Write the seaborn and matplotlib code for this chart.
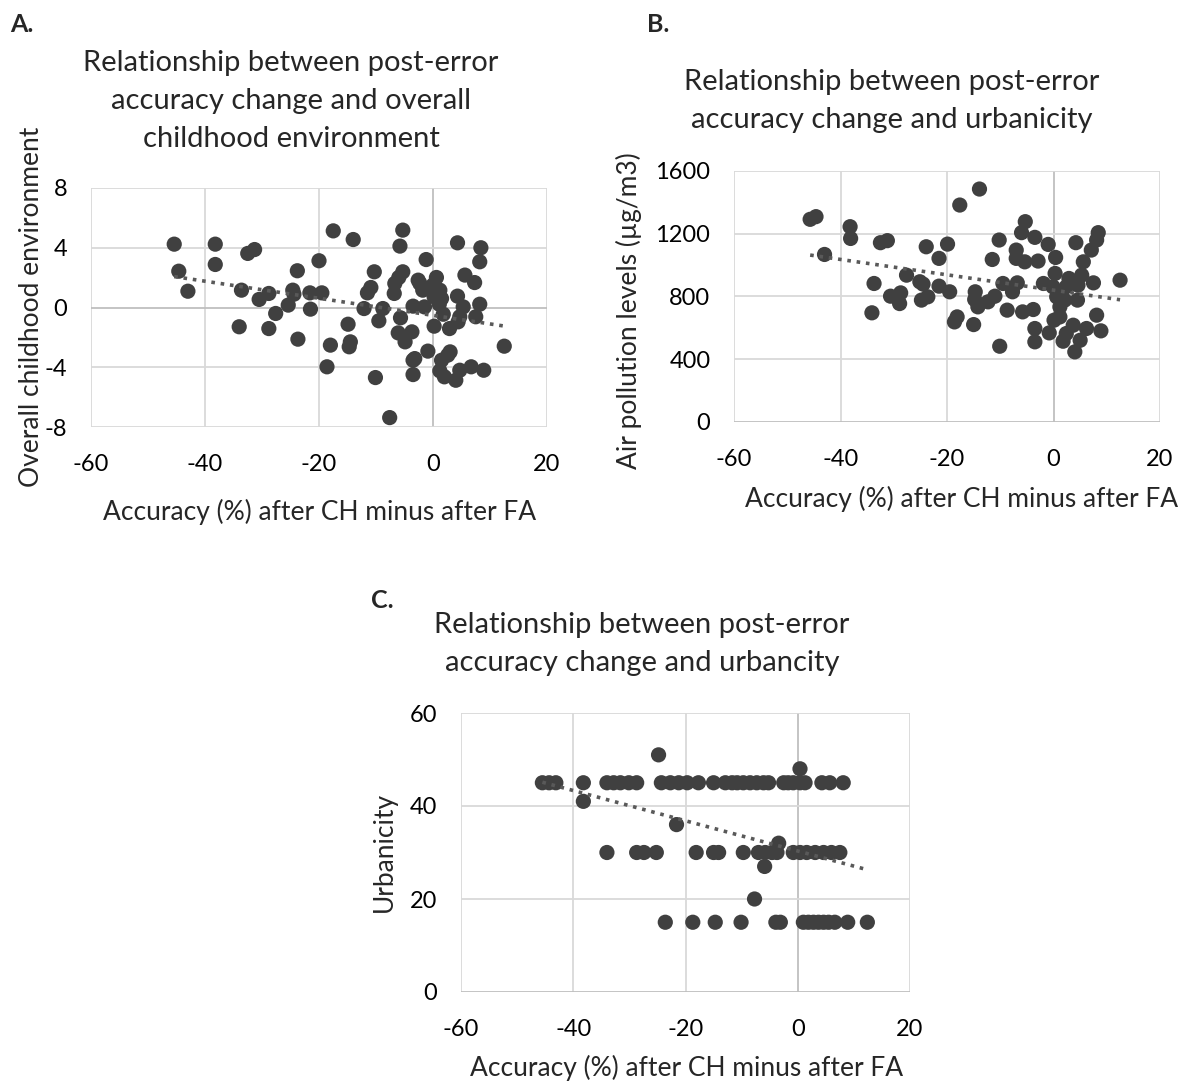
import numpy as np
import pandas as pd
import matplotlib
matplotlib.use("Agg")
import matplotlib.pyplot as plt
import seaborn as sns

# ---------------- Data ----------------
# Panel A: accuracy change vs overall childhood environment
a_x = [-45.4, -44.6, -43.0, -38.2, -38.2, -32.5, -31.3, -33.6, -34.0, -30.5,
       -28.8, -28.8, -27.6, -25.4, -24.6, -24.4, -23.8, -23.7, -21.6, -21.5,
       -19.5, -20.0, -17.5, -14.0, -18.0, -18.6, -14.9, -14.5, -14.7, -12.1,
       -11.5, -10.9, -10.3, -10.1, -8.8, -9.5, -7.6, -6.8, -6.7, -6.0,
       -5.3, -5.8, -5.3, -5.7, -6.1, -4.9, -3.7, -3.5, -3.2, -3.5,
       -3.5, -2.6, -1.8, -1.2, -0.9, 0.2, 0.6, 0.0, 1.2, 1.5,
       1.1, 1.8, 1.5, 2.6, 1.2, 2.0, 3.0, 2.9, 4.3, 4.3,
       5.3, 4.7, 4.4, 5.6, 7.3, 7.5, 8.2, 8.4, 8.2, 4.0,
       4.7, 6.7, 8.9, 12.5, 0.2, -1.5, -2.3]
a_y = [4.24, 2.43, 1.09, 4.24, 2.88, 3.62, 3.88, 1.16, -1.29, 0.54,
       0.94, -1.41, -0.40, 0.16, 1.16, 0.89, 2.46, -2.12, 0.98, -0.11,
       0.98, 3.13, 5.13, 4.55, -2.52, -3.97, -1.12, -2.30, -2.63, -0.07,
       0.98, 1.34, 2.39, -4.69, -0.07, -0.89, -7.37, 0.94, 1.61, 2.01,
       2.39, 4.11, 5.18, -0.69, -1.70, -2.30, -1.63, -3.53, -3.42, -4.49,
       0.09, 1.83, 1.16, 3.21, -2.92, -1.25, 2.01, 1.50, 1.16, 0.60,
       0.22, -0.45, -3.53, -3.19, -4.24, -4.64, -2.97, -1.41, 4.33, 0.76,
       0.04, -0.62, -0.96, 2.17, 1.67, -0.62, 0.22, 4.00, 3.06, -4.87,
       -4.20, -3.97, -4.20, -2.59, 0.71, 0.04, 1.61]

# Panel B: accuracy change vs air pollution levels
b_x = [-45.7, -44.6, -43.0, -38.2, -38.1, -32.5, -31.2, -33.7, -34.1, -30.6,
       -28.7, -28.9, -27.6, -25.1, -24.5, -24.8, -23.6, -23.9, -21.5, -19.9,
       -21.5, -19.5, -17.6, -13.9, -18.6, -18.1, -15.0, -14.7, -14.8, -14.2,
       -12.3, -11.0, -11.5, -10.2, -10.1, -9.5, -8.7, -7.7, -6.8, -7.0,
       -7.0, -6.0, -5.3, -5.8, -5.4, -3.5, -3.8, -3.5, -3.5, -2.9,
       -1.0, -1.9, 0.4, 0.3, -0.1, 0.6, 1.2, 0.1, -0.8, 1.8,
       2.9, 3.7, 4.2, 4.5, 4.0, 5.0, 5.6, 5.3, 7.1, 8.1,
       8.4, 7.5, 8.1, 8.9, 12.5, 2.4, 1.5, 4.6, 6.2, 2.4,
       1.2, 2.1]
b_y = [1292, 1309, 1068, 1245, 1170, 1143, 1156, 883, 696, 802,
       823, 755, 936, 894, 879, 777, 798, 1117, 1043, 1134,
       866, 830, 1383, 1485, 638, 670, 621, 830, 781, 734,
       766, 802, 1036, 1160, 483, 883, 713, 830, 887, 1096,
       1043, 1207, 1277, 702, 1021, 1177, 717, 596, 511, 1026,
       1132, 883, 1049, 947, 862, 798, 734, 649, 568, 515,
       915, 617, 1143, 777, 447, 521, 1021, 936, 1096, 1160,
       1207, 887, 681, 581, 904, 862, 830, 872, 596, 564,
       670, 777]

# Panel C: accuracy change vs urbanicity
c_x = [-45.5, -44.3, -43.1, -38.2, -34.0, -32.8, -31.6, -30.1, -28.7, -24.3,
       -22.7, -21.2, -19.7, -17.7, -15.0, -12.9, -11.7, -10.8, -9.7, -8.5,
       -7.3, -6.1, -5.2, -2.5, -1.7, -0.8, 0.4, 1.3, 4.3, 5.7,
       8.1,
       -24.8, 0.4, -38.2, -21.6, -3.4, -5.9, -7.7,
       -34.0, -28.7, -27.4, -25.2, -18.1, -15.0, -14.1, -9.7, -7.0, -5.8,
       -4.6, -3.7, -0.8, 0.4, 1.6, 3.1, 4.6, 6.0, 7.5,
       -23.6, -18.7, -14.7, -10.1, -3.9, -3.1, 1.0, 1.9, 2.8, 3.7,
       4.6, 5.5, 6.6, 8.9, 12.4]
c_y = [45] * 31 + [51, 48, 41, 36, 32, 27, 20] + [30] * 19 + [15] * 15

# Axis text
x_label = "Accuracy (%) after CH minus after FA"
a_title = "Relationship between post-error\naccuracy change and overall\nchildhood environment"
b_title = "Relationship between post-error\naccuracy change and urbanicity"
c_title = "Relationship between post-error\naccuracy change and urbancity"
a_ylabel = "Overall childhood environment"
b_ylabel = "Air pollution levels (µg/m3)"
c_ylabel = "Urbanicity"
x_ticks = [-60, -40, -20, 0, 20]
a_yticks = [-8, -4, 0, 4, 8]
b_yticks = [0, 400, 800, 1200, 1600]
c_yticks = [0, 20, 40, 60]

# ---------------- Style ----------------
sns.set_theme(style="white")
plt.rcParams['font.family'] = ['Lato', 'DejaVu Sans']
plt.rcParams['axes.unicode_minus'] = False

W, H = 1192, 1084
fig = plt.figure(figsize=(W / 100, H / 100), dpi=100)

DOT = "#404040"
GRID = "#d9d9d9"
ZERO = "#bfbfbf"
FS_TICK = 17
FS_LAB = 19
FS_TITLE = 21


def panel(box, x, y, yticks, ylab, ylab_pos, xlab_pos):
    l, t, r, b = box
    ax = fig.add_axes([l / W, 1 - b / H, (r - l) / W, (b - t) / H])
    df = pd.DataFrame({"x": x, "y": y})
    sns.scatterplot(data=df, x="x", y="y", ax=ax, color=DOT, s=120,
                    edgecolor="none", zorder=3)
    sns.regplot(data=df, x="x", y="y", ax=ax, scatter=False, ci=None,
                line_kws=dict(color="#595959", lw=2.6, linestyle=(0, (1, 1.6)),
                              zorder=4))
    ax.set_xlim(x_ticks[0], x_ticks[-1])
    ax.set_ylim(yticks[0], yticks[-1])
    ax.set_xticks(x_ticks)
    ax.set_yticks(yticks)
    for tk in x_ticks:
        ax.axvline(tk, color=ZERO if tk == 0 else GRID, lw=1.3, zorder=1)
    for tk in yticks:
        ax.axhline(tk, color=ZERO if tk == 0 else GRID, lw=1.3, zorder=1)
    for s in ax.spines.values():
        s.set_visible(False)
    ax.tick_params(axis="both", length=0, labelsize=FS_TICK, colors="black")
    ax.tick_params(axis="x", pad=19.5)
    ax.tick_params(axis="y", pad=17)
    ax.set_xlabel(x_label, fontsize=FS_LAB)
    ax.set_ylabel(ylab, fontsize=FS_LAB)
    # place labels at pixel centres
    ax.xaxis.label.set_va("center")
    ax.yaxis.label.set_va("center")
    ax.xaxis.set_label_coords((xlab_pos[0] - l) / (r - l), (b - xlab_pos[1]) / (b - t))
    ax.yaxis.set_label_coords((ylab_pos[0] - l) / (r - l), (b - ylab_pos[1]) / (b - t))
    return ax


axA = panel((91, 188, 547, 427), a_x, a_y, a_yticks, a_ylabel, (32, 307), (320, 512))
axB = panel((734, 171, 1160, 422), b_x, b_y, b_yticks, b_ylabel, (629, 311), (962, 499))
axC = panel((461, 713, 910, 992), c_x, c_y, c_yticks, c_ylabel, (384, 852), (687, 1068))


def ftext(x, y, s, **kw):
    fig.text(x / W, 1 - y / H, s, **kw)


ftext(291, 101, a_title, ha="center", va="center", fontsize=FS_TITLE, linespacing=1.58)
ftext(892, 101, b_title, ha="center", va="center", fontsize=FS_TITLE, linespacing=1.58)
ftext(642, 644, c_title, ha="center", va="center", fontsize=FS_TITLE, linespacing=1.58)
ftext(10, 25, "A.", ha="left", va="center", fontsize=18, fontweight="bold")
ftext(647, 25, "B.", ha="left", va="center", fontsize=18, fontweight="bold")
ftext(371, 600, "C.", ha="left", va="center", fontsize=18, fontweight="bold")

fig.savefig("out.png", dpi=100, facecolor="white")
